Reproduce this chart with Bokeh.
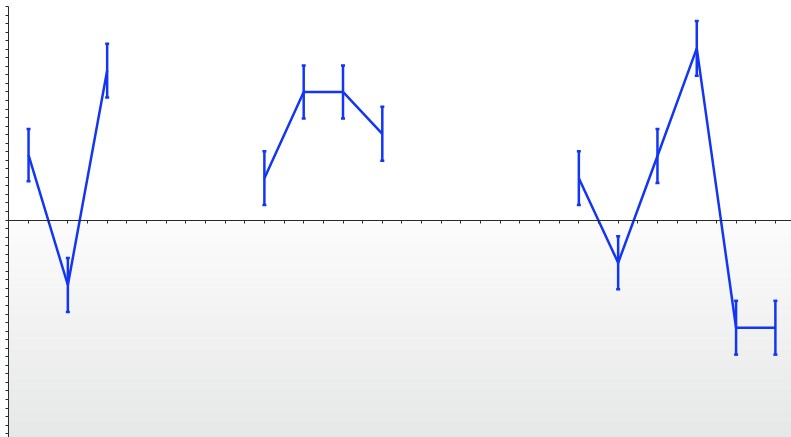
import numpy as np
from bokeh.plotting import figure
from bokeh.models import LinearAxis, FixedTicker, Range1d, ColumnDataSource, Whisker, TeeHead
from bokeh.embed import file_html
from bokeh.resources import INLINE

# Series: one point per slot, NaN marks a break in the line
slots = list(range(20))
means = [7.6, -7.6, 17.5, np.nan, np.nan, np.nan, 4.9, 15.0, 15.0, 10.1,
         np.nan, np.nan, np.nan, np.nan, 4.9, -5.0, 7.5, 20.1, -12.6, -12.6]
errors = [3.05, 3.15, 3.15, np.nan, np.nan, np.nan, 3.15, 3.1, 3.1, 3.15,
          np.nan, np.nan, np.nan, np.nan, 3.15, 3.1, 3.15, 3.2, 3.15, 3.15]

y_ticks = list(range(-25, 26))
x_ticks = [i * 0.5 for i in range(0, 39)]

BLUE = "#1236f4"
AXIS = "#2b2b2b"

y_lo, y_hi = -25.45, 25.7
x_lo, x_hi = -0.51, 19.41

p = figure(width=791, height=437, output_backend="svg", toolbar_location=None,
           x_axis_type=None, y_axis_type=None,
           x_range=Range1d(x_lo, x_hi), y_range=Range1d(y_lo, y_hi),
           min_border_left=8, min_border_right=0, min_border_top=0, min_border_bottom=0)
p.outline_line_color = None
p.background_fill_color = "white"
p.border_fill_color = "white"
p.xgrid.visible = False
p.ygrid.visible = False

# Soft grey gradient filling the region below zero
n_strips = 60
edges = np.linspace(0, y_lo, n_strips + 1)
top_rgb = np.array([252, 252, 252])
bot_rgb = np.array([230, 231, 231])
cols = []
for i in range(n_strips):
    t = (i + 0.5) / n_strips
    c = (top_rgb + (bot_rgb - top_rgb) * t).round().astype(int)
    cols.append("#%02x%02x%02x" % tuple(c))
p.quad(left=x_lo - 1, right=x_hi + 1, top=edges[:-1], bottom=edges[1:],
       fill_color=cols, line_color=cols, line_width=1)


def tick_only_axis(ticks, **kw):
    # ticks drawn as minor ticks only, so the axis carries no labels
    ax = LinearAxis(ticker=FixedTicker(ticks=[], minor_ticks=ticks), **kw)
    ax.major_tick_line_color = None
    ax.minor_tick_in = 0
    ax.minor_tick_out = 3
    ax.minor_tick_line_color = AXIS
    ax.axis_line_color = AXIS
    ax.major_label_standoff = 0
    return ax


p.add_layout(tick_only_axis(y_ticks, bounds=(y_lo, 25.05)), "left")
p.add_layout(tick_only_axis(x_ticks, fixed_location=0), "below")

m = np.array(means, dtype=float)
e = np.array(errors, dtype=float)
src = ColumnDataSource(dict(x=slots, y=m, lo=m - e, hi=m + e))

p.line("x", "y", source=src, line_color=BLUE, line_width=2.5)
wh = Whisker(source=src, base="x", upper="hi", lower="lo", dimension="height",
             line_color=BLUE, line_width=2.5, level="overlay",
             upper_head=TeeHead(size=4, line_color=BLUE, line_width=2.5),
             lower_head=TeeHead(size=4, line_color=BLUE, line_width=2.5))
p.add_layout(wh)

open("out.html", "w").write(file_html(p, INLINE))
